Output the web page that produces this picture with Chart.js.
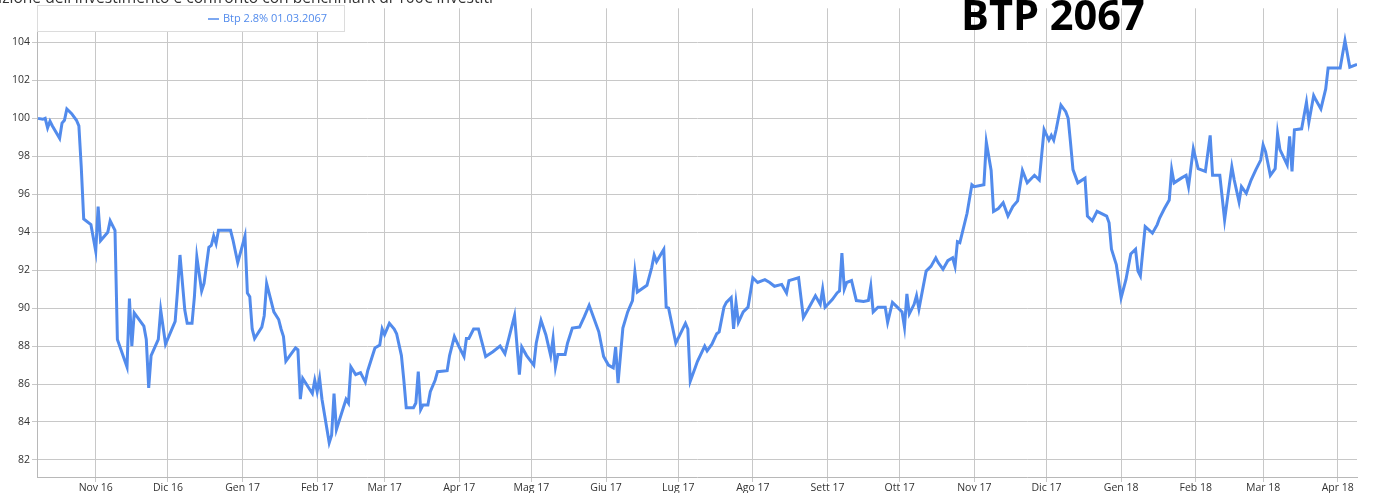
<!DOCTYPE html>
<html>
<head>
<meta charset="utf-8">
<script src="https://cdn.jsdelivr.net/npm/chart.js@4/dist/chart.umd.min.js"></script>
<style>
  html, body { margin: 0; padding: 0; background: #fff; }
  canvas { display: block; }
</style>
</head>
<body>
<canvas id="btp-chart" width="1375" height="493"></canvas>
<script>
// Btp 2.8% 01.03.2067 - valore di 100 euro investiti
const dates = [
    '2016-10-08', '2016-10-10', '2016-10-11', '2016-10-12', '2016-10-13', '2016-10-14', '2016-10-17', '2016-10-18',
    '2016-10-19', '2016-10-20', '2016-10-22', '2016-10-24', '2016-10-25', '2016-10-26', '2016-10-27', '2016-10-30',
    '2016-11-01', '2016-11-02', '2016-11-03', '2016-11-06', '2016-11-07', '2016-11-09', '2016-11-10', '2016-11-14',
    '2016-11-15', '2016-11-16', '2016-11-17', '2016-11-21', '2016-11-22', '2016-11-23', '2016-11-24', '2016-11-27',
    '2016-11-28', '2016-11-30', '2016-12-04', '2016-12-05', '2016-12-06', '2016-12-08', '2016-12-09', '2016-12-11',
    '2016-12-12', '2016-12-13', '2016-12-15', '2016-12-16', '2016-12-18', '2016-12-19', '2016-12-20', '2016-12-21',
    '2016-12-22', '2016-12-27', '2016-12-28', '2016-12-30', '2017-01-02', '2017-01-03', '2017-01-04', '2017-01-05',
    '2017-01-06', '2017-01-09', '2017-01-10', '2017-01-11', '2017-01-13', '2017-01-14', '2017-01-16', '2017-01-17',
    '2017-01-18', '2017-01-19', '2017-01-23', '2017-01-24', '2017-01-25', '2017-01-26', '2017-01-29', '2017-01-30',
    '2017-01-31', '2017-02-01', '2017-02-02', '2017-02-03', '2017-02-06', '2017-02-07', '2017-02-08', '2017-02-09',
    '2017-02-12', '2017-02-13', '2017-02-14', '2017-02-15', '2017-02-17', '2017-02-19', '2017-02-21', '2017-02-22',
    '2017-02-24', '2017-02-25', '2017-02-27', '2017-02-28', '2017-03-01', '2017-03-03', '2017-03-05', '2017-03-06',
    '2017-03-08', '2017-03-09', '2017-03-10', '2017-03-13', '2017-03-14', '2017-03-15', '2017-03-16', '2017-03-17',
    '2017-03-19', '2017-03-20', '2017-03-22', '2017-03-23', '2017-03-27', '2017-03-28', '2017-03-30', '2017-04-01',
    '2017-04-03', '2017-04-04', '2017-04-05', '2017-04-07', '2017-04-09', '2017-04-12', '2017-04-15', '2017-04-18',
    '2017-04-20', '2017-04-22', '2017-04-24', '2017-04-26', '2017-04-27', '2017-04-29', '2017-05-02', '2017-05-03',
    '2017-05-05', '2017-05-07', '2017-05-08', '2017-05-09', '2017-05-10', '2017-05-11', '2017-05-12', '2017-05-15',
    '2017-05-16', '2017-05-18', '2017-05-21', '2017-05-23', '2017-05-25', '2017-05-27', '2017-05-29', '2017-05-31',
    '2017-06-02', '2017-06-04', '2017-06-05', '2017-06-06', '2017-06-08', '2017-06-10', '2017-06-12', '2017-06-13',
    '2017-06-14', '2017-06-18', '2017-06-20', '2017-06-21', '2017-06-22', '2017-06-25', '2017-06-26', '2017-06-27',
    '2017-06-30', '2017-07-04', '2017-07-05', '2017-07-06', '2017-07-08', '2017-07-09', '2017-07-12', '2017-07-13',
    '2017-07-15', '2017-07-17', '2017-07-18', '2017-07-20', '2017-07-21', '2017-07-23', '2017-07-24', '2017-07-25',
    '2017-07-26', '2017-07-28', '2017-07-30', '2017-08-01', '2017-08-03', '2017-08-06', '2017-08-08', '2017-08-10',
    '2017-08-13', '2017-08-15', '2017-08-16', '2017-08-20', '2017-08-22', '2017-08-24', '2017-08-27', '2017-08-29',
    '2017-08-30', '2017-08-31', '2017-09-03', '2017-09-05', '2017-09-06', '2017-09-07', '2017-09-08', '2017-09-09',
    '2017-09-11', '2017-09-13', '2017-09-16', '2017-09-18', '2017-09-19', '2017-09-20', '2017-09-22', '2017-09-25',
    '2017-09-26', '2017-09-28', '2017-09-30', '2017-10-02', '2017-10-03', '2017-10-04', '2017-10-05', '2017-10-07',
    '2017-10-08', '2017-10-09', '2017-10-12', '2017-10-14', '2017-10-16', '2017-10-17', '2017-10-19', '2017-10-21',
    '2017-10-23', '2017-10-24', '2017-10-25', '2017-10-26', '2017-10-29', '2017-10-31', '2017-11-01', '2017-11-05',
    '2017-11-06', '2017-11-08', '2017-11-09', '2017-11-11', '2017-11-13', '2017-11-15', '2017-11-17', '2017-11-19',
    '2017-11-21', '2017-11-23', '2017-11-26', '2017-11-28', '2017-11-30', '2017-12-02', '2017-12-03', '2017-12-04',
    '2017-12-05', '2017-12-07', '2017-12-09', '2017-12-10', '2017-12-11', '2017-12-12', '2017-12-14', '2017-12-17',
    '2017-12-18', '2017-12-20', '2017-12-22', '2017-12-26', '2017-12-27', '2017-12-28', '2017-12-30', '2018-01-01',
    '2018-01-03', '2018-01-05', '2018-01-07', '2018-01-08', '2018-01-09', '2018-01-11', '2018-01-14', '2018-01-16',
    '2018-01-17', '2018-01-19', '2018-01-21', '2018-01-22', '2018-01-23', '2018-01-26', '2018-01-28', '2018-01-29',
    '2018-01-31', '2018-02-02', '2018-02-05', '2018-02-07', '2018-02-08', '2018-02-11', '2018-02-13', '2018-02-14',
    '2018-02-16', '2018-02-17', '2018-02-19', '2018-02-20', '2018-02-22', '2018-02-24', '2018-02-26', '2018-02-28',
    '2018-03-01', '2018-03-02', '2018-03-04', '2018-03-06', '2018-03-07', '2018-03-08', '2018-03-11', '2018-03-12',
    '2018-03-13', '2018-03-14', '2018-03-17', '2018-03-19', '2018-03-20', '2018-03-22', '2018-03-23', '2018-03-25',
    '2018-03-27', '2018-03-28', '2018-04-02', '2018-04-04', '2018-04-06', '2018-04-09'
];

const prices = [
    100.0, 99.95, 100.0, 99.5, 99.85, 99.6, 98.95, 99.75,
    99.9, 100.5, 100.25, 99.9, 99.6, 97.4, 94.7, 94.4,
    93.0, 95.35, 93.55, 94.0, 94.6, 94.1, 88.35, 86.9,
    90.5, 88.0, 89.75, 89.05, 88.35, 85.8, 87.5, 88.35,
    89.9, 88.1, 89.3, 90.95, 92.8, 89.9, 89.2, 89.2,
    90.6, 92.7, 90.9, 91.3, 93.2, 93.3, 93.8, 93.4,
    94.1, 94.1, 93.6, 92.4, 93.8, 90.8, 90.6, 88.9,
    88.4, 89.0, 89.6, 91.3, 90.3, 89.8, 89.4, 88.9,
    88.5, 87.2, 87.9, 87.8, 85.2, 86.3, 85.7, 85.5,
    86.2, 85.6, 86.3, 85.2, 82.9, 83.3, 85.5, 83.6,
    84.8, 85.2, 85.0, 86.9, 86.5, 86.6, 86.1, 86.7,
    87.5, 87.9, 88.05, 88.9, 88.6, 89.2, 88.9, 88.65,
    87.5, 86.2, 84.75, 84.75, 85.0, 86.65, 84.65, 84.9,
    84.9, 85.6, 86.2, 86.65, 86.7, 87.5, 88.5, 87.95,
    87.45, 88.4, 88.4, 88.9, 88.9, 87.45, 87.7, 88.0,
    87.6, 88.6, 89.6, 86.5, 87.95, 87.5, 87.0, 88.15,
    89.35, 88.6, 88.05, 87.5, 88.4, 86.9, 87.55, 87.55,
    88.15, 88.95, 89.0, 89.55, 90.15, 89.45, 88.75, 87.45,
    87.0, 86.85, 87.95, 86.05, 88.95, 89.8, 90.4, 91.9,
    90.85, 91.2, 92.15, 92.8, 92.45, 93.1, 90.05, 90.0,
    88.15, 89.2, 88.9, 86.15, 86.85, 87.2, 88.0, 87.75,
    88.1, 88.65, 88.75, 90.05, 90.3, 90.55, 88.9, 90.3,
    89.25, 89.8, 90.05, 91.6, 91.35, 91.5, 91.35, 91.15,
    91.25, 90.8, 91.45, 91.6, 89.5, 89.95, 90.65, 90.2,
    91.0, 90.05, 90.45, 90.8, 90.9, 92.9, 91.0, 91.35,
    91.45, 90.4, 90.35, 90.4, 91.15, 89.8, 90.05, 90.05,
    89.25, 90.3, 90.05, 89.8, 89.0, 90.75, 89.7, 90.2,
    90.65, 89.95, 91.95, 92.2, 92.65, 92.4, 92.05, 92.5,
    92.65, 92.2, 93.5, 93.45, 95.0, 96.5, 96.4, 96.5,
    98.75, 97.25, 95.1, 95.25, 95.55, 94.85, 95.35, 95.65,
    97.25, 96.6, 97.0, 96.75, 99.4, 98.85, 99.1, 98.85,
    99.4, 100.7, 100.35, 100.0, 98.7, 97.3, 96.6, 96.85,
    94.85, 94.6, 95.1, 94.85, 94.5, 93.1, 92.3, 90.55,
    91.5, 92.85, 93.1, 91.95, 91.7, 94.3, 93.95, 94.4,
    94.75, 95.25, 95.7, 97.3, 96.6, 96.85, 97.0, 96.4,
    98.4, 97.35, 97.2, 99.1, 97.0, 97.0, 94.65, 95.6,
    97.45, 96.75, 95.6, 96.4, 96.05, 96.75, 97.3, 97.8,
    98.6, 98.25, 97.0, 97.35, 99.2, 98.35, 97.55, 99.05,
    97.2, 99.4, 99.45, 100.85, 99.8, 101.2, 100.95, 100.5,
    101.55, 102.65, 102.65, 104.1, 102.7, 102.85
];

// tick marks of the month axis
const xTickDates = [
    '2016-11-01', '2016-12-01', '2017-01-01', '2017-02-01', '2017-03-01', '2017-04-01',
    '2017-05-01', '2017-06-01', '2017-07-01', '2017-08-01', '2017-09-01', '2017-10-01',
    '2017-11-01', '2017-12-01', '2018-01-01', '2018-02-01', '2018-03-01', '2018-04-01'
];
const xTickLabels = [
    'Nov 16', 'Dic 16', 'Gen 17', 'Feb 17', 'Mar 17', 'Apr 17',
    'Mag 17', 'Giu 17', 'Lug 17', 'Ago 17', 'Sett 17', 'Ott 17',
    'Nov 17', 'Dic 17', 'Gen 18', 'Feb 18', 'Mar 18', 'Apr 18'
];
const yTicks = [82, 84, 86, 88, 90, 92, 94, 96, 98, 100, 102, 104];

const seriesName = 'Btp 2.8% 01.03.2067';
const chartTitle = "Evoluzione dell'investimento e confronto con benchmark di 100€ investiti";
const badgeText = 'BTP 2067';

const lineColor = '#528bec';
const gridColor = '#c8c8c8';

// days since epoch, so the x axis can stay a plain linear scale
function dayNum(iso) {
    const [y, m, d] = iso.split('-').map(Number);
    return Date.UTC(y, m - 1, d) / 86400000;
}

const points = dates.map((d, i) => ({ x: dayNum(d), y: prices[i] }));
const xTickDays = xTickDates.map(dayNum);

// title, boxed legend and the big label on top of the chart
const overlay = {
    id: 'overlay',
    afterDraw(chart) {
        const ctx = chart.ctx;
        ctx.save();

        ctx.fillStyle = '#333333';
        ctx.font = '15.6px "Open Sans"';
        ctx.textAlign = 'right';
        ctx.textBaseline = 'alphabetic';
        ctx.fillText(chartTitle, 493, 3);

        // legend box
        ctx.fillStyle = '#ffffff';
        ctx.fillRect(37, 5, 308, 27);
        ctx.strokeStyle = '#dcdcdc';
        ctx.lineWidth = 1;
        ctx.strokeRect(37.5, 5.5, 307, 26);
        ctx.strokeStyle = lineColor;
        ctx.lineWidth = 1.5;
        ctx.beginPath();
        ctx.moveTo(208, 19);
        ctx.lineTo(219, 19);
        ctx.stroke();
        ctx.fillStyle = lineColor;
        ctx.font = '11px "Open Sans"';
        ctx.textAlign = 'left';
        ctx.textBaseline = 'middle';
        ctx.fillText(seriesName, 223, 19);

        ctx.fillStyle = '#000000';
        ctx.font = 'bold 41.5px "Open Sans"';
        ctx.textBaseline = 'alphabetic';
        ctx.fillText(badgeText, 961, 30);

        ctx.restore();
    }
};

new Chart(document.getElementById('btp-chart'), {
    type: 'line',
    data: {
        datasets: [{
            label: seriesName,
            data: points,
            borderColor: lineColor,
            borderWidth: 3,
            pointRadius: 0,
            tension: 0,
            fill: false
        }]
    },
    options: {
        responsive: false,
        animation: false,
        layout: { padding: { top: 5, right: 18, left: 0, bottom: 0 } },
        plugins: {
            legend: { display: false },
            tooltip: { enabled: false }
        },
        scales: {
            x: {
                type: 'linear',
                min: dayNum('2016-10-08') - 0.4,
                max: dayNum('2018-04-09'),
                afterBuildTicks: scale => {
                    scale.ticks = xTickDays.map(v => ({ value: v }));
                },
                afterFit: scale => { scale.height = 16; },
                grid: { color: gridColor, tickLength: 5 },
                border: { color: '#b8b8b8' },
                ticks: {
                    autoSkip: false,
                    maxRotation: 0,
                    padding: 0,
                    color: '#333333',
                    font: { family: 'Open Sans', size: 10.5 },
                    callback: (value, index) => xTickLabels[index]
                }
            },
            y: {
                min: 81.1,
                max: 105.8,
                afterBuildTicks: scale => {
                    scale.ticks = yTicks.map(v => ({ value: v }));
                },
                afterFit: scale => { scale.width = 37; },
                grid: { color: gridColor, tickLength: 5 },
                border: { color: '#b8b8b8' },
                ticks: {
                    padding: 2,
                    color: '#333333',
                    font: { family: 'Open Sans', size: 10.5 }
                }
            }
        }
    },
    plugins: [overlay]
});
</script>
</body>
</html>
